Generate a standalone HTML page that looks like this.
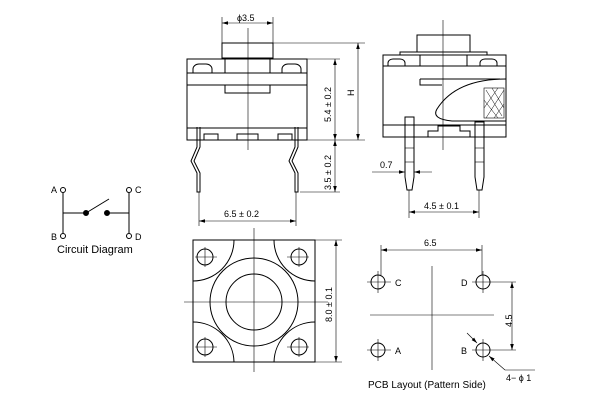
<!DOCTYPE html>
<html><head><meta charset="utf-8"><style>body{margin:0;background:#fff}svg{display:block}</style></head><body>
<svg width="600" height="400" viewBox="0 0 600 400" xmlns="http://www.w3.org/2000/svg" font-family="Liberation Sans, sans-serif" fill="none" stroke="#000" stroke-width="1">
<defs>
<marker id="a" viewBox="0 0 10 10" refX="10" refY="5" markerWidth="6" markerHeight="6" orient="auto-start-reverse" markerUnits="userSpaceOnUse"><path d="M0,2 L10,5 L0,8 z" fill="#000" stroke="none"/></marker>
</defs>
<!-- Circuit -->
<g stroke-width="1">
<line x1="63" y1="193" x2="63" y2="233"/><line x1="129" y1="193" x2="129" y2="233"/>
<circle cx="63" cy="190" r="2.5"/><circle cx="63" cy="236" r="2.5"/><circle cx="129" cy="190" r="2.5"/><circle cx="129" cy="236" r="2.5"/>
<line x1="63" y1="213" x2="86" y2="213"/><line x1="86" y1="213" x2="109" y2="199"/><line x1="107" y1="213" x2="129" y2="213"/>
<circle cx="86" cy="213" r="2.5" fill="#000"/><circle cx="107" cy="213" r="2.5" fill="#000"/>
</g>
<g fill="#000" stroke="none" font-size="9">
<text x="51" y="193">A</text><text x="51" y="240">B</text><text x="135" y="193">C</text><text x="135" y="240">D</text>
<text x="57" y="253" font-size="11">Circuit Diagram</text>
</g>
<!-- Front view -->
<line x1="248" y1="28" x2="248" y2="150" stroke-width="0.6"/>
<line x1="222" y1="17" x2="222" y2="43" stroke-width="0.6"/><line x1="273" y1="17" x2="273" y2="43" stroke-width="0.6"/>
<line x1="222" y1="23" x2="273" y2="23" stroke-width="0.6" marker-start="url(#a)" marker-end="url(#a)"/>
<rect x="222" y="43" width="51" height="15"/>
<rect x="187" y="59" width="120" height="81"/>
<line x1="187" y1="73" x2="307" y2="73"/><line x1="187" y1="85" x2="307" y2="85"/>
<polyline points="225,58 225,73"/><polyline points="270,58 270,73"/>
<polyline points="225,85 225,93 270,93 270,85"/>
<path d="M193,73 v-4 a6,5 0 0 1 6,-5 h7 a6,5 0 0 1 6,5 v4"/>
<path d="M282,73 v-4 a6,5 0 0 1 6,-5 h7 a6,5 0 0 1 6,5 v4"/>
<line x1="187" y1="128" x2="307" y2="128"/>
<line x1="200" y1="128" x2="200" y2="140"/><line x1="295" y1="128" x2="295" y2="140"/>
<rect x="204" y="134" width="14" height="6"/><rect x="237" y="134" width="21" height="6"/><rect x="278" y="134" width="14" height="6"/>
<path d="M197,127 v20 l-6,14 l6,12 v19 h3 v-19 l-6,-12 l6,-14 v-20"/>
<path d="M295,127 v20 l-6,14 l6,12 v19 h3 v-19 l-6,-12 l6,-14 v-20"/>
<g stroke-width="0.6">
<line x1="273" y1="43" x2="365" y2="43"/><line x1="307" y1="59" x2="340" y2="59"/><line x1="307" y1="140" x2="365" y2="140"/><line x1="300" y1="192" x2="340" y2="192"/>
<line x1="335" y1="59" x2="335" y2="140" marker-start="url(#a)" marker-end="url(#a)"/>
<line x1="335" y1="140" x2="335" y2="192" marker-start="url(#a)" marker-end="url(#a)"/>
<line x1="358" y1="43" x2="358" y2="140" marker-start="url(#a)" marker-end="url(#a)"/>
<line x1="199" y1="192" x2="199" y2="226"/><line x1="296" y1="192" x2="296" y2="226"/><line x1="199" y1="221" x2="296" y2="221" marker-start="url(#a)" marker-end="url(#a)"/>
</g>
<g fill="#000" stroke="none" font-size="9">
<text x="237" y="21">ϕ3.5</text>
<text x="224" y="217">6.5 ± 0.2</text>
<text transform="translate(331,122) rotate(-90)">5.4 ± 0.2</text>
<text transform="translate(331,190) rotate(-90)">3.5 ± 0.2</text>
<text transform="translate(354,96) rotate(-90)">H</text>
</g>
<!-- Side view -->
<line x1="443" y1="20" x2="443" y2="150" stroke-width="0.6"/>
<rect x="417" y="35" width="53" height="17"/>
<rect x="400" y="52" width="87" height="3"/>
<rect x="383" y="55" width="123" height="82"/>
<line x1="383" y1="66" x2="506" y2="66"/>
<path d="M388,66 v-3 a5,4 0 0 1 5,-4 h7 a5,4 0 0 1 5,4 v3"/><path d="M480,66 v-3 a5,4 0 0 1 5,-4 h7 a5,4 0 0 1 5,4 v3"/>
<line x1="420" y1="55" x2="420" y2="66"/><line x1="467" y1="55" x2="467" y2="66"/>
<path d="M420,79 h80 M420,79 v6 h22"/>
<path d="M506,79 q-50,0 -69,30 q-6,10 15,12 h54"/>
<rect x="484" y="88" width="20" height="30" stroke-width="0.6"/>
<path d="M486,90 l16,26 M492,88 l12,20 M484,100 l14,18 M504,90 l-18,28 M498,88 l-14,20 M504,104 l-10,14" stroke-width="0.5"/>
<line x1="383" y1="125" x2="506" y2="125"/>
<path d="M428,137 v-6 h10 v-5 h22 v5 h10 v6"/>
<path d="M405,117 v60 l2,13 h5 l2,-13 v-60 z"/>
<path d="M475,122 v55 l2,13 h5 l2,-13 v-55 z"/>
<g stroke-width="0.6">
<line x1="405" y1="148" x2="414" y2="148"/><line x1="405" y1="162" x2="414" y2="162"/><line x1="475" y1="148" x2="484" y2="148"/><line x1="475" y1="162" x2="484" y2="162"/>
<line x1="372" y1="172" x2="405" y2="172" marker-end="url(#a)"/><line x1="432" y1="172" x2="414" y2="172" marker-end="url(#a)"/>
<line x1="409" y1="190" x2="409" y2="218"/><line x1="479" y1="190" x2="479" y2="218"/><line x1="409" y1="212" x2="479" y2="212" marker-start="url(#a)" marker-end="url(#a)"/>
</g>
<g fill="#000" stroke="none" font-size="9">
<text x="380" y="168">0.7</text><text x="424" y="209">4.5 ± 0.1</text>
</g>
<!-- Bottom view -->
<rect x="193" y="240" width="122" height="122"/>
<line x1="254" y1="228" x2="254" y2="372" stroke-width="0.6"/><line x1="184" y1="302" x2="328" y2="302" stroke-width="0.6"/>
<circle cx="254" cy="302" r="28"/><circle cx="254" cy="302" r="44"/>
<path d="M193,281 A41,41 0 0 0 234,240"/><path d="M274,240 A41,41 0 0 0 315,281"/>
<path d="M193,322 A41,41 0 0 1 234,362"/><path d="M274,362 A41,41 0 0 1 315,322"/>
<g>
<circle cx="205" cy="257" r="8"/><circle cx="299" cy="257" r="8"/><circle cx="205" cy="347" r="8"/><circle cx="299" cy="347" r="8"/>
<path d="M195,257 h22 M205,247 v20 M287,257 h22 M299,247 v20 M195,347 h22 M205,337 v20 M287,347 h22 M299,337 v20" stroke-width="0.6"/>
</g>
<g stroke-width="0.6">
<line x1="315" y1="240" x2="342" y2="240"/><line x1="315" y1="362" x2="342" y2="362"/><line x1="336" y1="240" x2="336" y2="362" marker-start="url(#a)" marker-end="url(#a)"/>
</g>
<text transform="translate(332,322) rotate(-90)" fill="#000" stroke="none" font-size="9">8.0 ± 0.1</text>
<!-- PCB layout -->
<line x1="432" y1="266" x2="432" y2="370" stroke-width="0.6"/><line x1="370" y1="315" x2="494" y2="315" stroke-width="0.6"/>
<circle cx="378" cy="282" r="7"/><circle cx="483" cy="282" r="7"/><circle cx="378" cy="350" r="7"/><circle cx="483" cy="350" r="7"/>
<path d="M367,282 h24 M378,271 v22 M472,282 h44 M483,271 v22 M367,350 h24 M378,339 v22 M472,350 h44 M483,339 v22" stroke-width="0.6"/>
<g stroke-width="0.6">
<line x1="381" y1="245" x2="381" y2="275"/><line x1="482" y1="245" x2="482" y2="275"/><line x1="381" y1="250" x2="482" y2="250" marker-start="url(#a)" marker-end="url(#a)"/>
<line x1="512" y1="282" x2="512" y2="350" marker-start="url(#a)" marker-end="url(#a)"/>
<line x1="467" y1="333" x2="477" y2="343" marker-end="url(#a)"/>
<line x1="505" y1="370" x2="489" y2="356" marker-end="url(#a)"/><line x1="505" y1="370" x2="535" y2="370"/>
</g>
<g fill="#000" stroke="none" font-size="9">
<text x="424" y="246">6.5</text>
<text transform="translate(512,327) rotate(-90)">4.5</text>
<text x="395" y="286">C</text><text x="461" y="286">D</text><text x="395" y="354">A</text><text x="461" y="354">B</text>
<text x="368" y="388" font-size="10">PCB Layout (Pattern Side)</text>
<text x="506" y="381">4− ϕ 1</text>
</g>
</svg>
</body></html>
